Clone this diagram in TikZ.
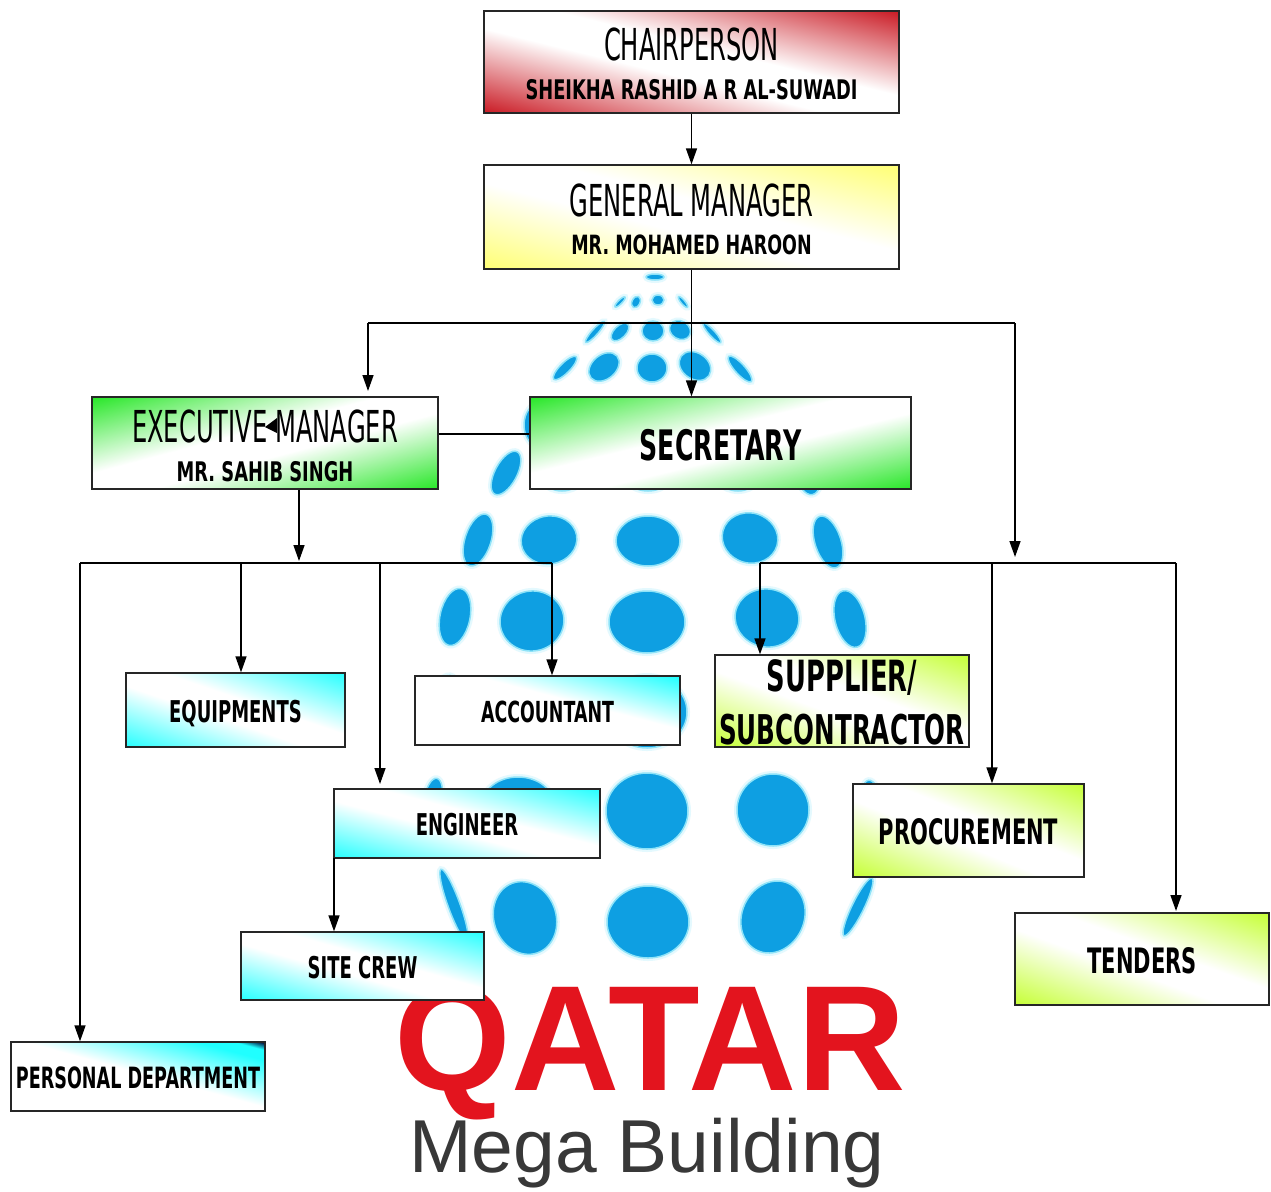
\documentclass[tikz,border=0pt]{standalone}
\usepackage{fontspec}
\usetikzlibrary{arrows.meta}
\setmainfont{DejaVu Sans}
\newfontfamily\fcondb{DejaVu Sans}[FakeStretch=0.6]
\newfontfamily\fcondn{DejaVu Sans}[FakeStretch=0.66]
\newfontfamily\fcondr{DejaVu Sans}[FakeStretch=0.55]
\newfontfamily\flogo{Liberation Sans}
\definecolor{dotblue}{HTML}{0E9FE2}
\definecolor{dotglow}{HTML}{8FE3F8}
\definecolor{dotpale}{HTML}{E4F9FE}
\definecolor{qred}{HTML}{E3141E}
\definecolor{cRed}{HTML}{C8141E}
\definecolor{cYel}{HTML}{FFFF70}
\definecolor{cGrn}{HTML}{22E622}
\definecolor{cCya}{HTML}{20FFFF}
\definecolor{cLim}{HTML}{C4FF30}
\newcommand{\twoband}[2]{\pgfdeclarehorizontalshading{#1}{100bp}{color(0bp)=(#2); color(14bp)=(#2); color(44bp)=(white); color(56bp)=(white); color(86bp)=(#2); color(100bp)=(#2)}}
\twoband{bandRed}{cRed}
\twoband{bandYel}{cYel}
\twoband{bandGrn}{cGrn}
\twoband{bandCya}{cCya}
\twoband{bandLim}{cLim}
\pgfdeclarehorizontalshading{oneCya}{100bp}{color(0bp)=(white); color(58bp)=(white); color(85bp)=(cCya); color(100bp)=(cCya)}
\pgfdeclarehorizontalshading{persCya}{100bp}{color(0bp)=(white); color(52bp)=(white); color(76bp)=(cCya); color(81bp)=(cCya); color(85bp)=(black!80!blue); color(100bp)=(black)}
\newcommand{\diagfill}[4]{%
  \pgftransformshift{\pgfpointanchor{path picture bounding box}{center}}%
  \pgftransformxscale{#3/50}\pgftransformyscale{#4/50}\pgftransformrotate{#2}%
  \pgftext{\pgfuseshading{#1}}}
\tikzset{
  orgbox/.style={draw=black!85,line width=1.3pt,inner sep=0pt,align=center,text=black,anchor=center,text depth=0pt},
  rising/.style n args={3}{orgbox,minimum width=#2pt,minimum height=#3pt,path picture={\diagfill{#1}{45}{#2}{#3}}},
  falling/.style n args={3}{orgbox,minimum width=#2pt,minimum height=#3pt,path picture={\diagfill{#1}{135}{#2}{#3}}},
  link/.style={draw=black,line width=1.4pt},
  arrowlink/.style={link,-{Triangle[length=16pt,width=11pt]}},
  logodot/.style={fill=dotblue,draw=dotglow,line width=1.5pt,preaction={draw=dotpale,line width=6pt}},
}
\newcommand{\ttl}{\fcondr\fontsize{44}{48}\selectfont}
\newcommand{\nam}[1]{\fcondn\bfseries\fontsize{#1}{#1}\selectfont}
\newcommand{\lbl}[1]{\fcondb\bfseries\fontsize{#1}{#1}\selectfont}
\begin{document}
\begin{tikzpicture}[x=1pt,y=-1pt]
\useasboundingbox (0,0) rectangle (1271,1191);
\fill[white] (0,0) rectangle (1271,1191);
% logo dots
\foreach \cx/\cy/\rx/\ry/\ang in {
 655/277/9/3/0,
 620/302/7/2/45, 636/302/6/4/65, 658/300/6/5/0, 683/302/7/2/-50,
 595/332/14/3/48, 620/332/11/6/45, 653/331/11/10/0, 680/330/11/9/-30, 712/333/13/3/-48,
 565/368/16/5/45, 604/367/17/12/40, 652/368/15/14/0, 695/366/17/13/-35, 740/369/17/5/-48,
 540/425/16/22/0, 506/473/24/11/62, 562/462/28/29/0, 648/462/30/29/0, 738/462/28/29/0, 808/470/13/25/10,
 478/540/27/13/72, 549/540/28/24/10, 648/541/32/25/0, 750/538/28/25/-15, 828/542/27/13/-72,
 455/617/29/15/78, 532/621/32/30/10, 647/622/38/31/0, 767/618/32/29/-10, 850/619/29/15/-76,
 445/705/30/14/80, 540/710/34/32/0, 647/712/40/36/0, 770/712/34/32/0, 868/712/30/14/-80,
 433/800/22/9/80, 518/805/36/28/0, 647/811/41/38/0, 773/810/36/36/0, 872/805/25/10/-82,
 525/918/37/31/-70, 648/922/41/36/0, 773/917/37/31/65,
 454/905/38/6/-70, 858/907/32/6/64
}{
  \draw[logodot,shift={(\cx,\cy)},rotate=\ang] (0,0) ellipse [x radius=\rx pt,y radius=\ry pt];
}
% logo text
\node[inner sep=0pt,anchor=base,text=qred,font=\flogo\bfseries\fontsize{150}{150}\selectfont] (qatar) at (650,1090) {QATAR};
\node[inner sep=0pt,anchor=base,text=black!78,font=\flogo\fontsize{75}{75}\selectfont] (mega) at (647,1172) {Mega Building};
% boxes
\node[rising={bandRed}{415}{102},text height=74pt] (chair) at (691.5,62)
  {\ttl CHAIRPERSON\\[17pt]\nam{27}SHEIKHA RASHID A R AL-SUWADI};
\node[rising={bandYel}{415}{104},text height=75pt] (gm) at (691.5,217)
  {\ttl GENERAL MANAGER\\[17pt]\nam{26.5}MR. MOHAMED HAROON};
\node[falling={bandGrn}{346}{92},text height=76pt] (exec) at (265,443)
  {\ttl EXECUTIVE MANAGER\\[17pt]\nam{27}MR. SAHIB SINGH};
\node[falling={bandGrn}{381}{92},text height=34pt] (sec) at (720.5,443)
  {\lbl{42}SECRETARY};
\node[rising={bandCya}{219}{74},text height=24pt] (equip) at (235.5,710)
  {\lbl{30}EQUIPMENTS};
\node[rising={oneCya}{265}{69},text height=23pt] (acct) at (547.5,710.5)
  {\lbl{29}ACCOUNTANT};
\node[rising={bandLim}{254}{92},text height=86pt] (supp) at (842,701)
  {\lbl{43}SUPPLIER/\\[17pt]\lbl{41}SUBCONTRACTOR};
\node[rising={bandCya}{266}{69},text height=23pt] (eng) at (467,823.5)
  {\lbl{30}ENGINEER};
\node[rising={bandLim}{231}{93},text height=27pt] (proc) at (968.5,830.5)
  {\lbl{35}PROCUREMENT};
\node[rising={bandCya}{243}{68},text height=24pt] (site) at (362.5,966)
  {\lbl{30}SITE CREW};
\node[rising={bandLim}{254}{92},text height=28pt] (tend) at (1142,959)
  {\lbl{35}TENDERS};
\node[rising={persCya}{254}{69},text height=23pt] (pers) at (138,1076.5)
  {\lbl{29.3}PERSONAL DEPARTMENT};
% routing points
\coordinate (upL) at (368,323);
\coordinate (upR) at (1015,323);
\coordinate (tipL) at (368,391);
\coordinate (tipR) at (1015,557);
\coordinate (execDrop) at (299,561);
\coordinate (busLL) at (80,563);
\coordinate (busLR) at (552,563);
\coordinate (busEq) at (241,563);
\coordinate (busEn) at (380,563);
\coordinate (tipEn) at (380,784);
\coordinate (busRL) at (760,563);
\coordinate (busPr) at (992,563);
\coordinate (busRR) at (1176,563);
\coordinate (tipTe) at (1176,911);
\coordinate (engOut) at (334,858);
% connectors
\draw[arrowlink] (chair.south) -- (gm.north);
\draw[arrowlink] (gm.south) -- (gm.south |- sec.north);
\draw[link] (upL) -- (upR);
\draw[arrowlink] (upL) -- (tipL);
\draw[arrowlink] (upR) -- (tipR);
\draw[link] (exec.east |- 0,434) -- (sec.west |- 0,434);
\draw[arrowlink] (execDrop |- exec.south) -- (execDrop);
\draw[link] (busLL) -- (busLR);
\draw[link] (busRL) -- (busRR);
\draw[arrowlink] (busLL) -- (busLL |- pers.north);
\draw[arrowlink] (busEq) -- (busEq |- equip.north);
\draw[arrowlink] (busEn) -- (tipEn);
\draw[arrowlink] (busLR) -- (busLR |- acct.north);
\draw[arrowlink] (busRL) -- (busRL |- supp.north);
\draw[arrowlink] (busPr) -- (busPr |- proc.north);
\draw[arrowlink] (busRR) -- (tipTe);
\draw[arrowlink] (engOut) -- (engOut |- site.north);
% stray arrowhead inside the executive title
\fill[black] (265,427) -- (277,418) -- (277,433) -- cycle;
\end{tikzpicture}
\end{document}
